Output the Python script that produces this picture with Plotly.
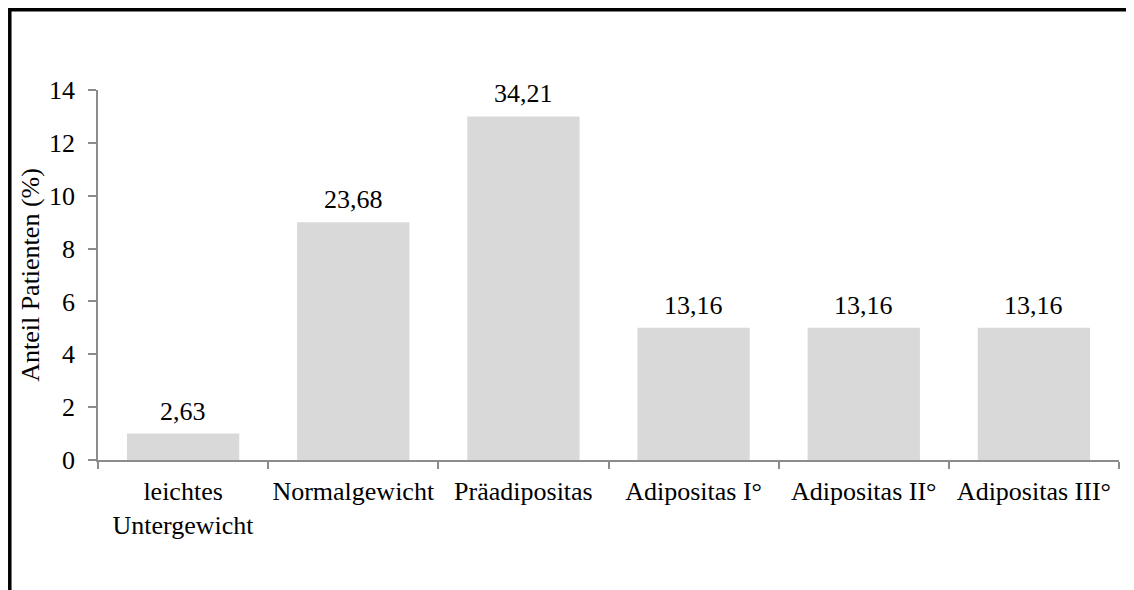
import plotly.graph_objects as go

categories = ["leichtes<br>Untergewicht", "Normalgewicht", "Präadipositas",
              "Adipositas I°", "Adipositas II°", "Adipositas III°"]
values = [1, 9, 13, 5, 5, 5]
labels = ["2,63", "23,68", "34,21", "13,16", "13,16", "13,16"]
y_ticks = [0, 2, 4, 6, 8, 10, 12, 14]

FONT = "Liberation Serif, Times New Roman, serif"
AXIS_COL = "#8c8c8c"

fig = go.Figure()
fig.add_trace(go.Bar(
    x=categories, y=values,
    marker=dict(color="#d9d9d9", line=dict(width=0)),
    hoverinfo="skip",
))

for c, v, t in zip(categories, values, labels):
    fig.add_annotation(x=c, y=v, text=t, showarrow=False, yanchor="bottom",
                       yshift=6, font=dict(family=FONT, size=26, color="#000"))

# outer frame (top + left lines)
fig.add_shape(type="line", xref="paper", yref="paper", x0=-0.0864, x1=1.05,
              y0=1.2169, y1=1.2169, line=dict(color="#000", width=3.5))
fig.add_shape(type="line", xref="paper", yref="paper", x0=-0.0864, x1=-0.0864,
              y0=1.222, y1=-0.4, line=dict(color="#000", width=3.5))

fig.update_layout(
    width=1126, height=582,
    margin=dict(l=90, r=15, t=82, b=130, autoexpand=False),
    paper_bgcolor="white", plot_bgcolor="white",
    bargap=0.34,
    showlegend=False,
    font=dict(family=FONT, size=26, color="#000"),
)
fig.update_xaxes(
    type="category", automargin=False, tickangle=0,
    showline=True, linecolor=AXIS_COL, linewidth=1.5,
    ticks="outside", tickson="boundaries", ticklen=7, tickwidth=1.5, tickcolor=AXIS_COL,
    tickfont=dict(family=FONT, size=26, color="#000"),
    ticklabelstandoff=7,
    showgrid=False, zeroline=False,
)
fig.update_yaxes(
    range=[0, 14], tickvals=y_ticks, automargin=False,
    showline=True, linecolor=AXIS_COL, linewidth=1.5,
    ticks="outside", ticklen=8, tickwidth=1.5, tickcolor=AXIS_COL,
    tickfont=dict(family=FONT, size=26, color="#000"),
    ticklabelstandoff=8,
    showgrid=False, zeroline=False,
    title=dict(text="Anteil Patienten (%)", font=dict(family=FONT, size=26, color="#000"),
               standoff=2),
)

fig.write_html("out.html")
